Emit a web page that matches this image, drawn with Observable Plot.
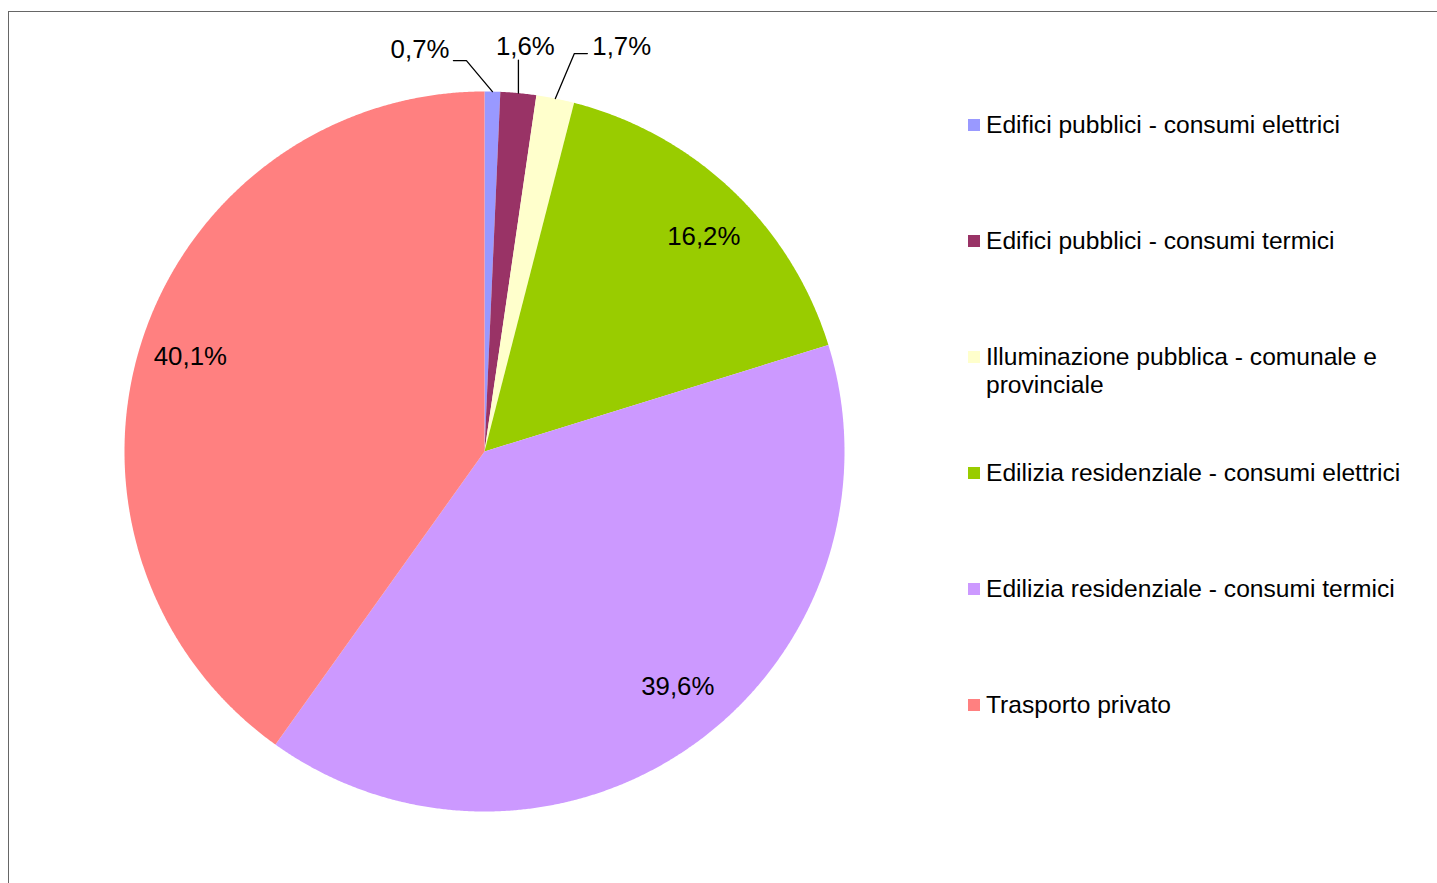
<!DOCTYPE html>
<html>
<head>
<meta charset="utf-8">
<script src="https://cdn.jsdelivr.net/npm/d3@7"></script>
<script src="https://cdn.jsdelivr.net/npm/@observablehq/plot@0.6"></script>
<style>
  body { margin: 0; background: #fff; font-family: "Liberation Sans", Arial, sans-serif; }
  #wrap { position: relative; width: 1437px; height: 883px; overflow: hidden; background: #fff; }
  #frame { position: absolute; left: 8px; top: 11px; width: 1500px; height: 1000px;
           border-top: 1px solid #666; border-left: 1px solid #666; }
  #chart { position: absolute; left: 0; top: 0; }
  #legend { position: absolute; left: 968px; top: 0; width: 460px; }
  .item { position: absolute; left: 0; display: flex; align-items: flex-start; }
  .sw { width: 12px; height: 12px; margin-top: 8px; margin-right: 6px; flex: none; }
  .lab { font-size: 24.6px; line-height: 28px; color: #000; width: 425px; }
</style>
</head>
<body>
<div id="wrap">
  <div id="frame"></div>
  <div id="chart"></div>
  <div id="legend"></div>
</div>
<script>
// ---- data ----
const categories = [
  "Edifici pubblici - consumi elettrici",
  "Edifici pubblici - consumi termici",
  "Illuminazione pubblica - comunale e provinciale",
  "Edilizia residenziale - consumi elettrici",
  "Edilizia residenziale - consumi termici",
  "Trasporto privato"
];
const values = [0.7, 1.6, 1.7, 16.2, 39.6, 40.1];
const valueLabels = ["0,7%", "1,6%", "1,7%", "16,2%", "39,6%", "40,1%"];
const colors = ["#9999FF", "#993366", "#FFFFCC", "#99CC00", "#CC99FF", "#FF8080"];

// ---- geometry derived from data ----
const total = d3.sum(values);
const PX = 1 / 360; // data units per pixel (radius = 360 px)
let acc = 0;
const slices = values.map((v, i) => {
  const a0 = acc / total * 2 * Math.PI;
  acc += v;
  const a1 = acc / total * 2 * Math.PI;
  return { cat: categories[i], a0, a1, mid: (a0 + a1) / 2, label: valueLabels[i], i };
});

const piePts = [];
for (const s of slices) {
  piePts.push({ cat: s.cat, x: 0, y: 0 });
  const n = Math.max(2, Math.ceil((s.a1 - s.a0) / (0.25 * Math.PI / 180)));
  for (let k = 0; k <= n; k++) {
    const a = s.a0 + (s.a1 - s.a0) * k / n;
    piePts.push({ cat: s.cat, x: Math.sin(a), y: Math.cos(a) });
  }
  piePts.push({ cat: s.cat, x: 0, y: 0 });
}

// outside labels with leader lines for the small slices (offsets in px)
const outside = {
  0: { elbow: [-26, -31], end: [-39, -31], text: [-43, -42], anchor: "end" },
  1: { elbow: [0, -33], end: [0, -33], text: [7, -46], anchor: "middle" },
  2: { elbow: [19, -45], end: [32, -45], text: [37, -52], anchor: "start" }
};
// small nudges (px) for the labels inside the slices
const nudge = { 3: [7, 8], 4: [13, -14], 5: [-1, -1] };
const leaderPts = [];
const labelData = [];
for (const s of slices) {
  const ax = Math.sin(s.mid), ay = Math.cos(s.mid);
  const o = outside[s.i];
  if (o) {
    leaderPts.push({ cat: s.cat, x: ax, y: ay });
    leaderPts.push({ cat: s.cat, x: ax + o.elbow[0] * PX, y: ay - o.elbow[1] * PX });
    leaderPts.push({ cat: s.cat, x: ax + o.end[0] * PX, y: ay - o.end[1] * PX });
    labelData.push({ text: s.label, anchor: o.anchor, x: ax + o.text[0] * PX, y: ay - o.text[1] * PX });
  } else {
    const r = 0.855;
    const nd = nudge[s.i] || [0, 0];
    labelData.push({ text: s.label, anchor: "middle", x: r * ax + nd[0] * PX, y: r * ay - nd[1] * PX });
  }
}

const textOpts = (anchor) => ({
  x: "x", y: "y", text: "text", filter: d => d.anchor === anchor,
  textAnchor: anchor, fontSize: 25.8, fill: "#000"
});

const chart = Plot.plot({
  width: 1437,
  height: 883,
  marginLeft: 124,
  marginRight: 593,
  marginTop: 91,
  marginBottom: 72,
  style: { fontFamily: "'Liberation Sans', Arial, sans-serif", background: "transparent" },
  x: { domain: [-1, 1], axis: null },
  y: { domain: [-1, 1], axis: null },
  color: { domain: categories, range: colors },
  marks: [
    Plot.line(piePts, { x: "x", y: "y", z: "cat", fill: "cat", stroke: "none", curve: "linear" }),
    Plot.line(leaderPts, { x: "x", y: "y", z: "cat", stroke: "#000", strokeWidth: 1.3 }),
    Plot.text(labelData, textOpts("start")),
    Plot.text(labelData, textOpts("middle")),
    Plot.text(labelData, textOpts("end"))
  ]
});
document.getElementById("chart").appendChild(chart);

// ---- legend ----
const legend = document.getElementById("legend");
categories.forEach((c, i) => {
  const item = document.createElement("div");
  item.className = "item";
  item.style.top = (111 + i * 116) + "px";
  const sw = document.createElement("div");
  sw.className = "sw";
  sw.style.background = colors[i];
  const lab = document.createElement("div");
  lab.className = "lab";
  lab.textContent = c;
  item.appendChild(sw);
  item.appendChild(lab);
  legend.appendChild(item);
});
</script>
</body>
</html>
